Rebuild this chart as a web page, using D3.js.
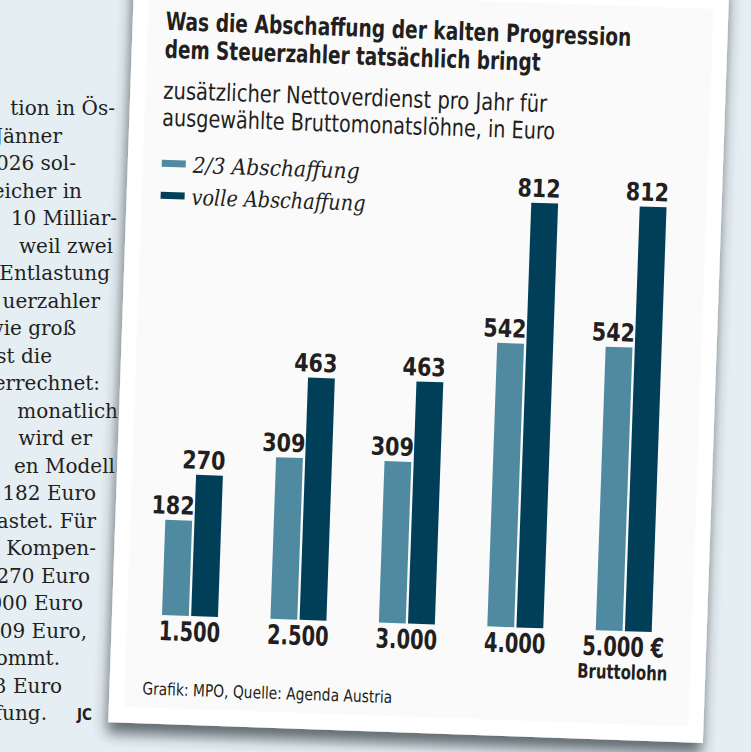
<!DOCTYPE html>
<html>
<head>
<meta charset="utf-8">
<script src="https://cdn.jsdelivr.net/npm/d3@7"></script>
<style>
  body { margin: 0; background: #e5eef2; }
  svg { display: block; }
</style>
</head>
<body>
<div id="chart"></div>
<script>
// chart data
const categories = ["1.500", "2.500", "3.000", "4.000", "5.000 €"];
const series = ["2/3 Abschaffung", "volle Abschaffung"];
const twoThirds = [182, 309, 309, 542, 542];
const full = [270, 463, 463, 812, 812];
const colors = ["#4f8aa1", "#013f59"];

const titleLines = ["Was die Abschaffung der kalten Progression", "dem Steuerzahler tatsächlich bringt"];
const subtitleLines = ["zusätzlicher Nettoverdienst pro Jahr für", "ausgewählte Bruttomonatslöhne, in Euro"];
const unitNote = "Bruttolohn";
const source = "Grafik: MPO, Quelle: Agenda Austria";

// article column on the left, cut off by the page edge
const columnText = ["tion in Ös-", "Jänner", "2026 sol-", "reicher in", "10 Milliar-", "weil zwei",
  "Entlastung", "uerzahler", "wie groß", "ist die", "errechnet:", "monatlich", "wird er",
  "en Modell", "182 Euro", "astet. Für", "Kompen-", "270 Euro", "3000 Euro", "309 Euro,",
  "kommt.", "63 Euro", "ffung."];
const columnEnds = [115, 62, 76, 82, 117, 113, 110, 100, 76, 52, 100, 118, 92, 115, 96, 96, 96, 90, 83, 87, 60, 62, 47];
const columnSign = "JC";

const W = 751, H = 752;
const svg = d3.select('#chart')
  .append('svg')
    .attr('width', W)
    .attr('height', H);

const condensed = "'DejaVu Sans Condensed','Liberation Sans Narrow','Roboto Condensed',Roboto,sans-serif";
const ink = "#231f20";

// left column
const col = svg.append('g')
  .attr('font-family', "'DejaVu Serif',serif")
  .attr('font-size', 20)
  .attr('fill', ink);
col.selectAll('text')
  .data(columnText)
  .enter()
  .append('text')
    .attr('x', (d, i) => columnEnds[i])
    .attr('y', (d, i) => 115 + i * 27.5)
    .attr('text-anchor', 'end')
    .text(d => d);
col.append('text')
  .attr('x', 77)
  .attr('y', 115 + 22 * 27.5)
  .attr('font-family', condensed)
  .attr('font-weight', 'bold')
  .attr('font-size', 15)
  .text(columnSign);

// shadow for the card
const defs = svg.append('defs');
const f = defs.append('filter').attr('id', 'shadow')
  .attr('x', '-10%').attr('y', '-10%').attr('width', '120%').attr('height', '125%');
f.append('feDropShadow')
  .attr('dx', -1).attr('dy', 11).attr('stdDeviation', 7)
  .attr('flood-color', '#25343c').attr('flood-opacity', 0.7);

// the whole card is tilted a bit
const card = svg.append('g')
  .attr('transform', 'rotate(2, 162, 615)');

card.append('rect')
  .attr('x', 112).attr('y', -40)
  .attr('width', 595).attr('height', 764)
  .attr('fill', '#ffffff')
  .attr('filter', 'url(#shadow)');
card.append('rect')
  .attr('x', 127).attr('y', -10)
  .attr('width', 565).attr('height', 718)
  .attr('fill', '#fafafa');

// titles
const titleLen = [466, 376];
card.selectAll('.title')
  .data(titleLines)
  .enter()
  .append('text')
    .attr('class', 'title')
    .attr('x', 145)
    .attr('y', (d, i) => 30 + i * 28)
    .attr('font-family', condensed)
    .attr('font-weight', 'bold')
    .attr('font-size', 25)
    .attr('fill', ink)
    .attr('textLength', (d, i) => titleLen[i])
    .attr('lengthAdjust', 'spacingAndGlyphs')
    .text(d => d);

const subLen = [384, 393];
card.selectAll('.sub')
  .data(subtitleLines)
  .enter()
  .append('text')
    .attr('class', 'sub')
    .attr('x', 145)
    .attr('y', (d, i) => 99 + i * 27)
    .attr('font-family', condensed)
    .attr('font-size', 24)
    .attr('fill', ink)
    .attr('textLength', (d, i) => subLen[i])
    .attr('lengthAdjust', 'spacingAndGlyphs')
    .text(d => d);

// legend
const legLen = [167, 174];
const legend = card.selectAll('.leg')
  .data(series)
  .enter()
  .append('g')
    .attr('class', 'leg')
    .attr('transform', (d, i) => `translate(146,${164 + i * 32})`);
legend.append('rect')
  .attr('x', 0).attr('y', -4)
  .attr('width', 24).attr('height', 7)
  .attr('fill', (d, i) => colors[i]);
legend.append('text')
  .attr('x', 31).attr('y', 8)
  .attr('font-family', "'DejaVu Serif',serif")
  .attr('font-style', 'italic')
  .attr('font-size', 22)
  .attr('fill', ink)
  .attr('textLength', (d, i) => legLen[i])
  .attr('lengthAdjust', 'spacingAndGlyphs')
  .text(d => d);

// scales
const base = 615;
const x = d3.scaleBand()
  .domain(categories)
  .range([162, 652])
  .paddingInner(0.484)
  .paddingOuter(0);

const xs = d3.scaleBand()
  .domain(series)
  .range([0, x.bandwidth()])
  .paddingInner(0.08);

const y = d3.scaleLinear()
  .domain([0, d3.max(full)])
  .range([base, 190]);

const rows = categories.map((c, i) => ({cat: c, vals: [twoThirds[i], full[i]]}));

const groups = card.selectAll('.grp')
  .data(rows)
  .enter()
  .append('g')
    .attr('class', 'grp')
    .attr('transform', d => `translate(${x(d.cat)},0)`);

const cells = groups.selectAll('.cell')
  .data(d => d.vals.map((v, j) => ({s: series[j], v: v, j: j})))
  .enter();

cells.append('rect')
  .attr('x', d => xs(d.s))
  .attr('y', d => y(d.v))
  .attr('width', xs.bandwidth())
  .attr('height', d => base - y(d.v))
  .attr('fill', d => colors[d.j]);

cells.append('text')
  .attr('x', d => xs(d.s) + xs.bandwidth() + 2)
  .attr('y', d => y(d.v) - 6)
  .attr('text-anchor', 'end')
  .attr('font-family', condensed)
  .attr('font-weight', 'bold')
  .attr('font-size', 25)
  .attr('fill', ink)
  .text(d => d.v)
  .each(function() {
    const w = this.getComputedTextLength();
    d3.select(this).attr('textLength', w * 0.92).attr('lengthAdjust', 'spacingAndGlyphs');
  });

// category axis, drawn as labels under the bars
const xAxis = d3.axisBottom(x).tickSize(0).tickPadding(6);
const xAxisGroup = card.append('g')
  .attr('transform', `translate(0,${base})`)
  .call(xAxis);
xAxisGroup.select('.domain').remove();
xAxisGroup.selectAll('text')
  .attr('font-family', condensed)
  .attr('font-weight', 'bold')
  .attr('font-size', 27)
  .attr('fill', ink)
  .each(function() {
    const w = this.getComputedTextLength();
    d3.select(this).attr('textLength', w * 0.8).attr('lengthAdjust', 'spacingAndGlyphs');
  });

card.append('text')
  .attr('x', x(categories[4]) + x.bandwidth() / 2)
  .attr('y', base + 48)
  .attr('text-anchor', 'middle')
  .attr('font-family', condensed)
  .attr('font-weight', 'bold')
  .attr('font-size', 20)
  .attr('fill', ink)
  .attr('textLength', 90)
  .attr('lengthAdjust', 'spacingAndGlyphs')
  .text(unitNote);

card.append('text')
  .attr('x', 145)
  .attr('y', 695)
  .attr('font-family', condensed)
  .attr('font-size', 17)
  .attr('fill', ink)
  .attr('textLength', 250)
  .attr('lengthAdjust', 'spacingAndGlyphs')
  .text(source);
</script>
</body>
</html>
